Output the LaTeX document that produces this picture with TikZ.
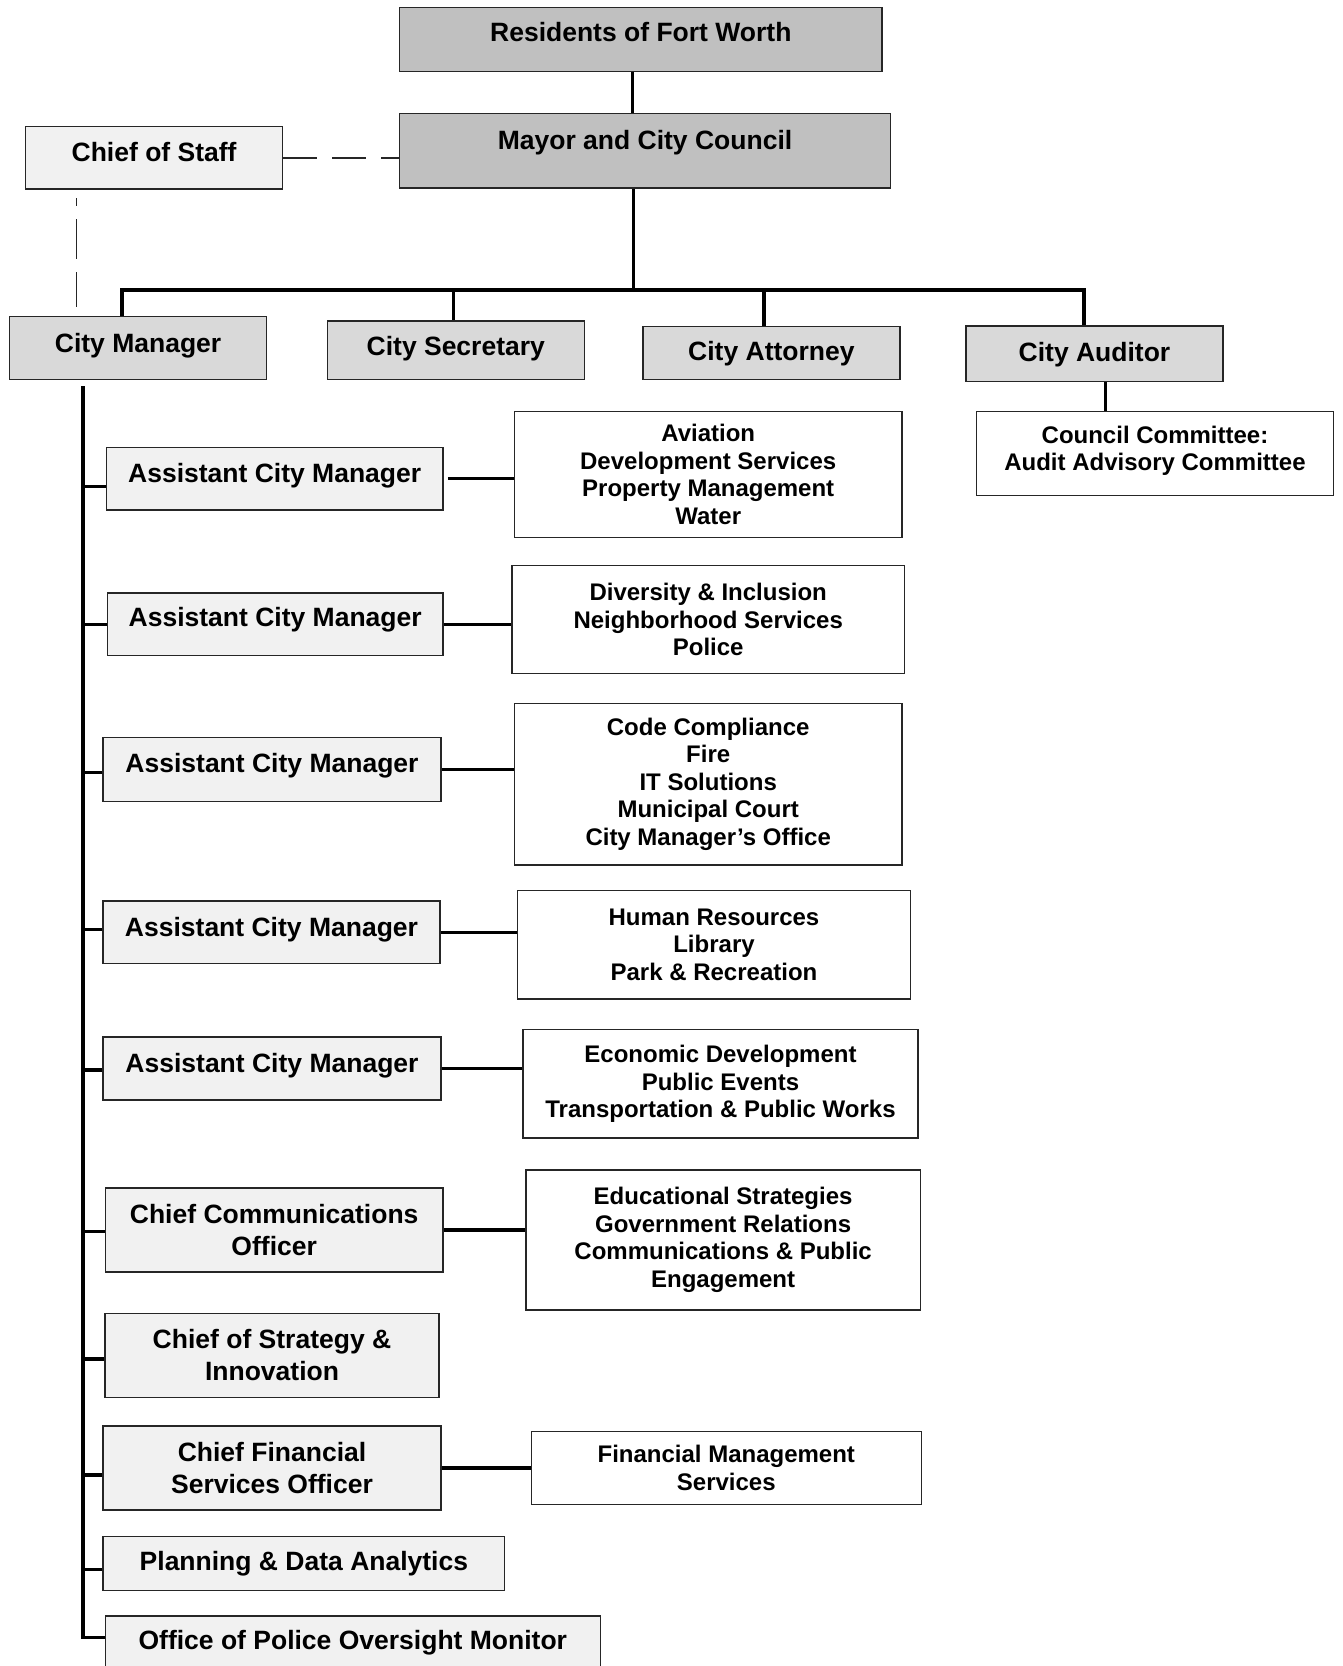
\documentclass[tikz,border=0pt]{standalone}
\usepackage{fontspec}
\setmainfont{Liberation Sans}
\definecolor{gDark}{HTML}{C0C0C0}
\definecolor{gMid}{HTML}{D9D9D9}
\definecolor{gLight}{HTML}{F1F1F1}
\tikzset{
  box/.style={draw=black!85, line width=1.4pt, inner sep=0pt, align=center,
              font=\bfseries\fontsize{26.5}{32}\selectfont},
  dk/.style={box, fill=gDark},
  md/.style={box, fill=gMid},
  lt/.style={box, fill=gLight},
  dept/.style={box, fill=white, font=\bfseries\fontsize{24}{27.6}\selectfont},
  sz/.style 2 args={minimum width=#1pt, minimum height=#2pt},
  one/.style={text height=19pt, text depth=#1pt},
  conn/.style={line width=3.2pt, draw=black},
  busline/.style={line width=3.8pt, draw=black},
  dshh/.style={line width=1.4pt, draw=black!85, dash pattern=on 34pt off 15pt},
  dshv/.style={line width=1.4pt, draw=black!85, dash pattern=on 40pt off 13pt, dash phase=32pt},
}
\begin{document}
\begin{tikzpicture}[x=1pt, y=-1pt]
\useasboundingbox (0,0) rectangle (1342,1666);
\clip (0,0) rectangle (1342,1666);

% top level
\node[dk, sz={482.5}{63.8}, one=14.8] (res) at (640.8,39.3) {Residents of Fort Worth};
\node[dk, sz={491}{74.4}, one=21] (mayor) at (645,150.9) {Mayor and City Council};
\node[lt, sz={257}{62.7}, one=11.7] (cos) at (154.1,157.8) {Chief of Staff};

\node[md, sz={257}{62.7}, one=9.6] (cm) at (138.1,348) {City Manager};
\node[md, sz={257}{58.5}, one=7.4] (csec) at (455.8,350.1) {City Secretary};
\node[md, sz={257}{53.2}, one=4] (catt) at (771.4,352.8) {City Attorney};
\node[md, sz={257}{55.3}, one=4] (caud) at (1094.5,353.8) {City Auditor};
\node[dept, sz={357}{84}] (cc) at (1155,453.2) {Council Committee:\\Audit Advisory Committee\\[-18pt]\mbox{}};

% left column
\node[lt, sz={336.8}{62.7}, one=11.7] (acm1) at (274.7,478.7) {Assistant City Manager};
\node[lt, sz={335.8}{62.7}, one=13.8] (acm2) at (275.2,624.3) {Assistant City Manager};
\node[lt, sz={337.9}{63.8}, one=12.8] (acm3) at (272,769.3) {Assistant City Manager};
\node[lt, sz={336.8}{62.7}, one=11.7] (acm4) at (271.5,932.4) {Assistant City Manager};
\node[lt, sz={337.9}{62.7}, one=11.7] (acm5) at (272,1068.5) {Assistant City Manager};
\node[lt, sz={337.9}{83.9}] (cco) at (274.2,1230) {Chief Communications\\Officer};
\node[lt, sz={333.7}{83.9}] (csi) at (272,1355.3) {Chief of Strategy \&\\Innovation};
\node[lt, sz={337.9}{84}] (cfso) at (272,1468) {Chief Financial\\Services Officer};
\node[lt, sz={401.6}{54.2}, one=5.3] (pda) at (303.9,1563.6) {Planning \& Data Analytics};
\node[lt, sz={495.2}{62.7}, one=14.8] (opom) at (352.8,1647.5) {Office of Police Oversight Monitor};

% departments
\node[dept, sz={387.8}{126.5}] (d1) at (708.2,474.5) {Aviation\\Development Services\\Property Management\\Water};
\node[dept, sz={392.1}{108.4}] (d2) at (708.2,619.5) {Diversity \& Inclusion\\Neighborhood Services\\Police};
\node[dept, sz={387.8}{161.6}] (d3) at (708.2,784.2) {Code Compliance\\Fire\\IT Solutions\\Municipal Court\\City Manager’s Office};
\node[dept, sz={393.1}{108.4}] (d4) at (714,944.7) {Human Resources\\Library\\Park \& Recreation};
\node[dept, sz={395.3}{108.4}] (d5) at (720.5,1083.9) {Economic Development\\Public Events\\Transportation \& Public Works};
\node[dept, sz={394.2}{140.3}] (d6) at (723.1,1240) {Educational Strategies\\Government Relations\\Communications \& Public\\Engagement};
\node[dept, sz={390}{73.3}] (fms) at (726.3,1468) {Financial Management\\Services};

% top connectors
\draw[conn] ([xshift=-8.6pt]res.south) -- ([xshift=-12.8pt]mayor.north);
\coordinate (bus) at (633.3,290.1);
\draw[conn] ([xshift=-11.7pt]mayor.south) -- (bus);
\coordinate (cmtop) at ([xshift=-15.9pt]cm.north);
\coordinate (audtop) at ([xshift=-10.6pt]caud.north);
\coordinate (sectop) at ([xshift=-2.1pt]csec.north);
\coordinate (atttop) at ([xshift=-7.4pt]catt.north);
\draw[busline] (cmtop) |- (bus) -| (audtop);
\draw[conn] (sectop) -- (sectop |- bus);
\draw[conn] (atttop) -- (atttop |- bus);
\coordinate (audbot) at ([xshift=10.6pt]caud.south);
\draw[conn] (audbot) -- (audbot |- cc.north);

% dashed staff links
\draw[dshh] (cos.east) -- (cos.east -| mayor.west);
\coordinate (cosd) at ([xshift=-77.6pt,yshift=-8.5pt]cos.south);
\coordinate (cmd) at ([xshift=-61.6pt,yshift=8.5pt]cm.north);
\draw[dshv] (cosd) -- (cmd);

% trunk
\coordinate (trk) at ([xshift=-55.2pt,yshift=-6.3pt]cm.south);
\coordinate (t10) at ([yshift=10pt]opom.west);
\draw[conn] (trk) |- (t10);
\coordinate (t1) at ([yshift=-8pt]acm1.west);
\coordinate (t2) at (acm2.west);
\coordinate (t3) at ([yshift=-3.2pt]acm3.west);
\coordinate (t4) at ([yshift=2.6pt]acm4.west);
\coordinate (t5) at ([yshift=-1.5pt]acm5.west);
\coordinate (t6) at ([yshift=-1.6pt]cco.west);
\coordinate (t7) at ([yshift=-3.7pt]csi.west);
\coordinate (t8) at ([yshift=-6.9pt]cfso.west);
\coordinate (t9) at ([yshift=-5.9pt]pda.west);
\foreach \t in {t1,t2,t3,t4,t5,t6,t7,t8,t9}
  \draw[conn] (\t) -- (trk |- \t);

% department links
\draw[conn] ([xshift=4pt]acm1.east) -- (acm1.east -| d1.west);
\draw[conn] (acm2.east) -- (acm2.east -| d2.west);
\draw[conn] (acm3.east) -- (acm3.east -| d3.west);
\draw[conn] (acm4.east) -- (acm4.east -| d4.west);
\draw[conn] (acm5.east) -- (acm5.east -| d5.west);
\draw[conn] (cco.east) -- (cco.east -| d6.west);
\draw[conn] (cfso.east) -- (cfso.east -| fms.west);
\end{tikzpicture}
\end{document}
